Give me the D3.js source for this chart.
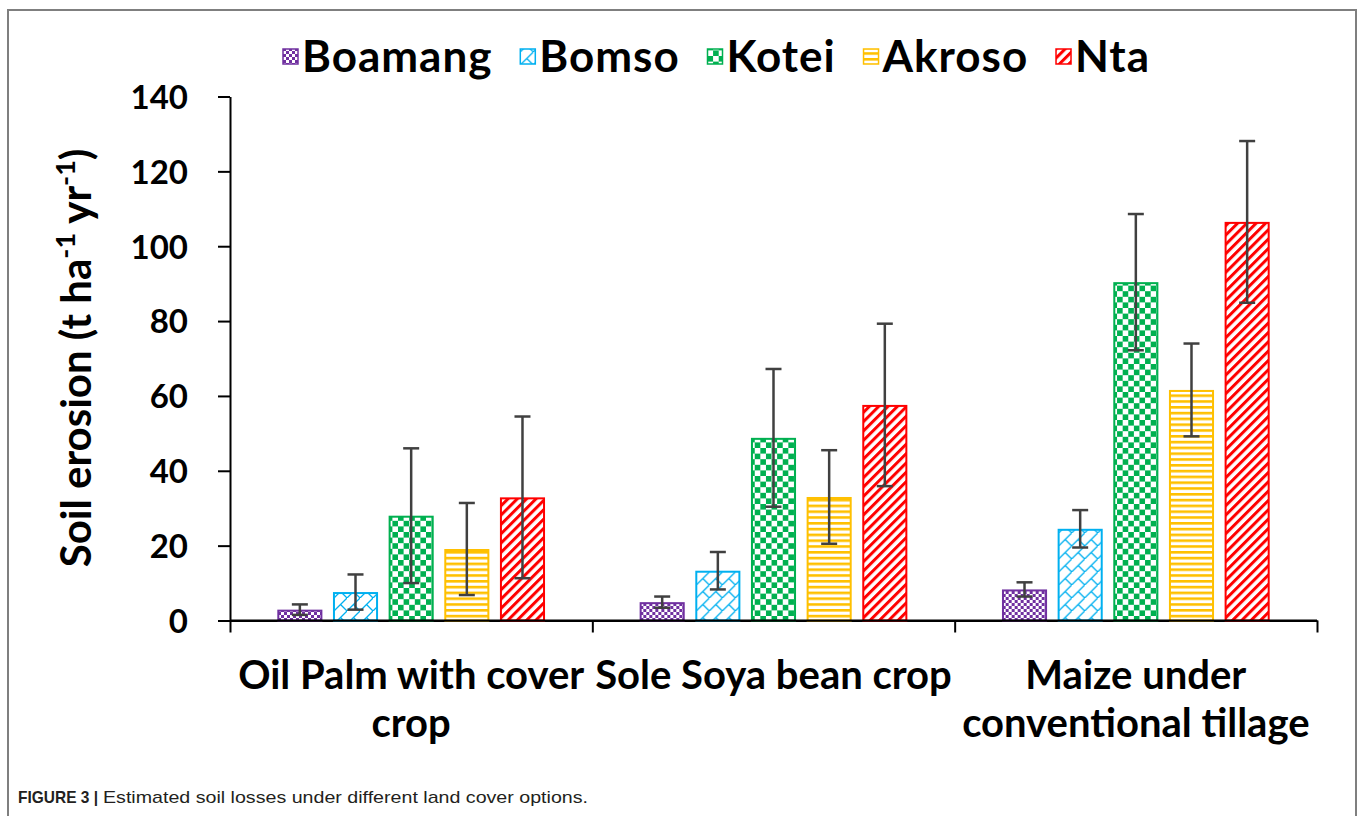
<!DOCTYPE html>
<html>
<head>
<meta charset="utf-8">
<script src="https://cdn.jsdelivr.net/npm/d3@7"></script>
<style>
body { margin: 0; background: #fff; }
svg text { font-family: Lato, "Open Sans", sans-serif; font-weight: bold; fill: #000; }
</style>
</head>
<body>
<script>
// data
var categories = ["Oil Palm with cover crop", "Sole Soya bean crop", "Maize under conventional tillage"];
var categoryLines = [["Oil Palm with cover", "crop"], ["Sole Soya bean crop"], ["Maize under", "conventional tillage"]];
var series = ["Boamang", "Bomso", "Kotei", "Akroso", "Nta"];
var seriesColors = ["#7030A0", "#00B0F0", "#00B050", "#FFC000", "#FF0000"];
var boamang = [2.9, 4.9, 8.3];
var bomso = [7.6, 13.3, 24.5];
var kotei = [28.0, 48.8, 90.4];
var akroso = [19.1, 33.0, 61.6];
var nta = [32.9, 57.6, 106.5];
var boamangErr = [1.4, 1.5, 1.9];
var bomsoErr = [4.7, 5.0, 5.0];
var koteiErr = [18.0, 18.4, 18.2];
var akrosoErr = [12.3, 12.5, 12.4];
var ntaErr = [21.6, 21.7, 21.6];
var yTicks = [0, 20, 40, 60, 80, 100, 120, 140];

var values = [boamang, bomso, kotei, akroso, nta];
var errors = [boamangErr, bomsoErr, koteiErr, akrosoErr, ntaErr];

var width = 1357, height = 816;

var svg = d3.select("body").append("svg")
  .attr("width", width)
  .attr("height", height);

svg.append("rect").attr("width", width).attr("height", height).attr("fill", "#fff");

// figure frame (runs off the bottom edge)
svg.append("rect")
  .attr("x", 8).attr("y", 10)
  .attr("width", 1348).attr("height", 840)
  .attr("fill", "none")
  .attr("stroke", "#7f7f7f")
  .attr("stroke-width", 2);

//==== hatch patterns ====
var defs = svg.append("defs");
function pat(id, w, h) {
  var p = defs.append("pattern").attr("id", id)
    .attr("patternUnits", "userSpaceOnUse")
    .attr("width", w).attr("height", h);
  p.append("rect").attr("width", w).attr("height", h).attr("fill", "#fff");
  return p;
}
// small checker
var p0 = pat("pat-0", 6, 6);
p0.append("rect").attr("width", 3).attr("height", 3).attr("fill", seriesColors[0]);
p0.append("rect").attr("x", 3).attr("y", 3).attr("width", 3).attr("height", 3).attr("fill", seriesColors[0]);
// diagonal brick
var p1 = pat("pat-1", 13, 13);
p1.append("path").attr("d", "M0,13L13,0M6.5,6.5L13,13")
  .attr("stroke", seriesColors[1]).attr("stroke-width", 1.3).attr("fill", "none");
// large checker
var p2 = pat("pat-2", 11.2, 11.2);
p2.append("rect").attr("width", 5.6).attr("height", 5.6).attr("fill", seriesColors[2]);
p2.append("rect").attr("x", 5.6).attr("y", 5.6).attr("width", 5.6).attr("height", 5.6).attr("fill", seriesColors[2]);
// horizontal lines
var p3 = pat("pat-3", 10, 5.8);
p3.append("rect").attr("width", 10).attr("height", 2.6).attr("fill", seriesColors[3]);
// wide upward diagonal
var p4 = pat("pat-4", 6.6, 10).attr("patternTransform", "rotate(45)");
p4.append("rect").attr("width", 3).attr("height", 10).attr("fill", seriesColors[4]);

//==== scales ====
var x0 = d3.scaleBand().domain(categories).range([230, 1317]).padding(0);
var x1 = d3.scaleBand().domain(series).range([0, x0.bandwidth()])
  .paddingInner(0.19).paddingOuter(0.85);
var y = d3.scaleLinear().domain([0, 140]).range([620.5, 96.5]);

//==== axes ====
var yAxis = svg.append("g")
  .attr("transform", "translate(230,0)")
  .call(d3.axisLeft(y).tickValues(yTicks).tickSize(12).tickSizeOuter(0).tickPadding(30));
yAxis.selectAll("path, line").attr("stroke", "#000").attr("stroke-width", 2);
yAxis.selectAll("text").style("font-size", "33px").attr("dy", "0.36em");

// category boundary ticks
var xb = d3.scaleLinear().domain([0, categories.length]).range(x0.range());
var xAxis = svg.append("g")
  .attr("transform", "translate(0," + y(0) + ")")
  .call(d3.axisBottom(xb).tickValues(d3.range(categories.length + 1)).tickFormat("").tickSize(12).tickSizeOuter(0));
xAxis.selectAll("path, line").attr("stroke", "#000").attr("stroke-width", 2);

//==== bars ====
var groups = svg.selectAll("g.cat")
  .data(categories)
  .enter().append("g")
  .attr("class", "cat")
  .attr("transform", function(d) { return "translate(" + x0(d) + ",0)"; });

groups.each(function(c, ci) {
  var g = d3.select(this);
  series.forEach(function(s, si) {
    var v = values[si][ci], e = errors[si][ci];
    var bx = x1(s), bw = x1.bandwidth();
    g.append("rect")
      .attr("x", bx + 1).attr("y", y(v) + 1)
      .attr("width", bw - 2).attr("height", y(0) - y(v) - 1)
      .attr("fill", "url(#pat-" + si + ")")
      .attr("stroke", seriesColors[si])
      .attr("stroke-width", 2);
    var cx = bx + bw / 2;
    g.append("line")
      .attr("x1", cx).attr("x2", cx)
      .attr("y1", y(v + e)).attr("y2", y(v - e))
      .attr("stroke", "#404040").attr("stroke-width", 2.5);
    [v + e, v - e].forEach(function(t) {
      g.append("line")
        .attr("x1", cx - 8).attr("x2", cx + 8)
        .attr("y1", y(t)).attr("y2", y(t))
        .attr("stroke", "#404040").attr("stroke-width", 2.5);
    });
  });
});

// redraw baseline over bars
svg.append("line")
  .attr("x1", 230).attr("x2", 1317)
  .attr("y1", y(0)).attr("y2", y(0))
  .attr("stroke", "#000").attr("stroke-width", 2);

//==== category labels ====
svg.selectAll("text.cat-label")
  .data(categories)
  .enter().append("text")
  .attr("class", "cat-label")
  .attr("text-anchor", "middle")
  .style("font-size", "40px")
  .each(function(c, ci) {
    var t = d3.select(this);
    categoryLines[ci].forEach(function(line, li) {
      t.append("tspan")
        .attr("x", x0(c) + x0.bandwidth() / 2)
        .attr("y", 689 + li * 48)
        .text(line);
    });
  });

//==== y title ====
var yt = svg.append("text")
  .attr("transform", "translate(91,358) rotate(-90)")
  .attr("text-anchor", "middle")
  .style("font-size", "42px");
yt.append("tspan").text("Soil erosion (t ha");
yt.append("tspan").attr("baseline-shift", "super").style("font-size", "27px").text("-1");
yt.append("tspan").text(" yr");
yt.append("tspan").attr("baseline-shift", "super").style("font-size", "27px").text("-1");
yt.append("tspan").text(")");

//==== legend ====
// spread the items between the first swatch and the end of "Nta"
var legLeft = 283, legRight = 1150;
var legend = svg.append("g").attr("class", "legend");
var items = series.map(function(s, si) {
  var item = legend.append("g");
  item.append("rect")
    .attr("x", 0).attr("y", 49).attr("width", 15).attr("height", 15)
    .attr("fill", "url(#pat-" + si + ")")
    .attr("stroke", seriesColors[si]).attr("stroke-width", 1.5);
  var t = item.append("text")
    .attr("x", 19).attr("y", 72)
    .style("font-size", "44px")
    .style("letter-spacing", "1px")
    .text(s);
  return {g: item, w: 19 + t.node().getComputedTextLength()};
});
var used = d3.sum(items, function(d) { return d.w; });
var gap = (legRight - legLeft - used) / (items.length - 1);
var lx = legLeft;
items.forEach(function(d) {
  d.g.attr("transform", "translate(" + lx + ",0)");
  lx += d.w + gap;
});

//==== caption ====
var cap = svg.append("text")
  .attr("x", 18).attr("y", 803)
  .style("font-family", "'Liberation Sans', Arial, sans-serif");
cap.append("tspan").style("font-weight", "bold").style("font-size", "17px").attr("fill", "#231f20")
  .attr("textLength", 80).attr("lengthAdjust", "spacingAndGlyphs")
  .text("FIGURE 3 |");
cap.append("tspan").attr("dx", 5).style("font-weight", "normal").style("font-size", "17px").attr("fill", "#231f20")
  .attr("textLength", 485).attr("lengthAdjust", "spacingAndGlyphs")
  .text("Estimated soil losses under different land cover options.");
</script>
</body>
</html>
